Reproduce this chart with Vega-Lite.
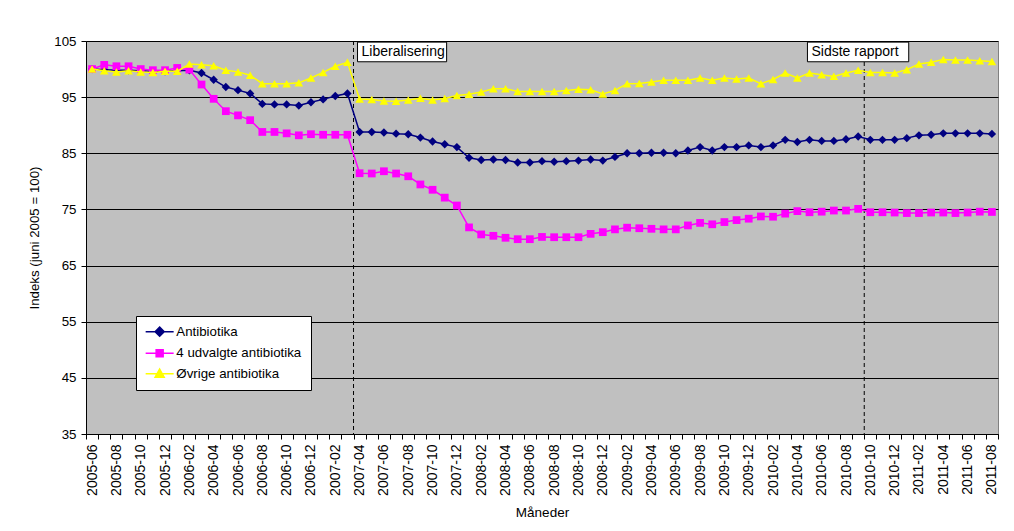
{
  "$schema": "https://vega.github.io/schema/vega-lite/v6.json",
  "width": 912,
  "height": 393,
  "autosize": {"type": "none"},
  "padding": {"left": 86, "top": 41, "right": 16, "bottom": 97},
  "background": "white",
  "config": {
    "font": "Liberation Sans",
    "view": {"fill": "#C0C0C0", "stroke": "#808080", "strokeWidth": 1}
  },
  "datasets": {
    "index": [
      {"month": "2005-06", "Antibiotika": 100.0, "4 udvalgte antibiotika": 100.0, "Øvrige antibiotika": 100.0},
      {"month": "2005-07", "Antibiotika": 99.9, "4 udvalgte antibiotika": 100.75, "Øvrige antibiotika": 99.7},
      {"month": "2005-08", "Antibiotika": 99.8, "4 udvalgte antibiotika": 100.5, "Øvrige antibiotika": 99.5},
      {"month": "2005-09", "Antibiotika": 99.8, "4 udvalgte antibiotika": 100.5, "Øvrige antibiotika": 99.7},
      {"month": "2005-10", "Antibiotika": 99.7, "4 udvalgte antibiotika": 100.0, "Øvrige antibiotika": 99.5},
      {"month": "2005-11", "Antibiotika": 99.6, "4 udvalgte antibiotika": 99.8, "Øvrige antibiotika": 99.4},
      {"month": "2005-12", "Antibiotika": 99.6, "4 udvalgte antibiotika": 99.8, "Øvrige antibiotika": 99.6},
      {"month": "2006-01", "Antibiotika": 99.7, "4 udvalgte antibiotika": 100.2, "Øvrige antibiotika": 99.6},
      {"month": "2006-02", "Antibiotika": 99.8, "4 udvalgte antibiotika": 99.9, "Øvrige antibiotika": 100.9},
      {"month": "2006-03", "Antibiotika": 99.3, "4 udvalgte antibiotika": 97.25, "Øvrige antibiotika": 100.75},
      {"month": "2006-04", "Antibiotika": 98.1, "4 udvalgte antibiotika": 94.7, "Øvrige antibiotika": 100.6},
      {"month": "2006-05", "Antibiotika": 96.8, "4 udvalgte antibiotika": 92.5, "Øvrige antibiotika": 99.8},
      {"month": "2006-06", "Antibiotika": 96.25, "4 udvalgte antibiotika": 91.75, "Øvrige antibiotika": 99.5},
      {"month": "2006-07", "Antibiotika": 95.65, "4 udvalgte antibiotika": 90.9, "Øvrige antibiotika": 98.9},
      {"month": "2006-08", "Antibiotika": 93.8, "4 udvalgte antibiotika": 88.8, "Øvrige antibiotika": 97.4},
      {"month": "2006-09", "Antibiotika": 93.7, "4 udvalgte antibiotika": 88.8, "Øvrige antibiotika": 97.4},
      {"month": "2006-10", "Antibiotika": 93.7, "4 udvalgte antibiotika": 88.55, "Øvrige antibiotika": 97.4},
      {"month": "2006-11", "Antibiotika": 93.5, "4 udvalgte antibiotika": 88.2, "Øvrige antibiotika": 97.55},
      {"month": "2006-12", "Antibiotika": 94.1, "4 udvalgte antibiotika": 88.4, "Øvrige antibiotika": 98.4},
      {"month": "2007-01", "Antibiotika": 94.6, "4 udvalgte antibiotika": 88.3, "Øvrige antibiotika": 99.4},
      {"month": "2007-02", "Antibiotika": 95.2, "4 udvalgte antibiotika": 88.3, "Øvrige antibiotika": 100.5},
      {"month": "2007-03", "Antibiotika": 95.65, "4 udvalgte antibiotika": 88.3, "Øvrige antibiotika": 101.2},
      {"month": "2007-04", "Antibiotika": 88.8, "4 udvalgte antibiotika": 81.45, "Øvrige antibiotika": 94.65},
      {"month": "2007-05", "Antibiotika": 88.8, "4 udvalgte antibiotika": 81.4, "Øvrige antibiotika": 94.6},
      {"month": "2007-06", "Antibiotika": 88.7, "4 udvalgte antibiotika": 81.8, "Øvrige antibiotika": 94.3},
      {"month": "2007-07", "Antibiotika": 88.5, "4 udvalgte antibiotika": 81.4, "Øvrige antibiotika": 94.25},
      {"month": "2007-08", "Antibiotika": 88.4, "4 udvalgte antibiotika": 80.9, "Øvrige antibiotika": 94.5},
      {"month": "2007-09", "Antibiotika": 87.8, "4 udvalgte antibiotika": 79.45, "Øvrige antibiotika": 94.8},
      {"month": "2007-10", "Antibiotika": 87.1, "4 udvalgte antibiotika": 78.5, "Øvrige antibiotika": 94.5},
      {"month": "2007-11", "Antibiotika": 86.6, "4 udvalgte antibiotika": 77.1, "Øvrige antibiotika": 94.75},
      {"month": "2007-12", "Antibiotika": 86.1, "4 udvalgte antibiotika": 75.7, "Øvrige antibiotika": 95.3},
      {"month": "2008-01", "Antibiotika": 84.2, "4 udvalgte antibiotika": 71.8, "Øvrige antibiotika": 95.5},
      {"month": "2008-02", "Antibiotika": 83.8, "4 udvalgte antibiotika": 70.55, "Øvrige antibiotika": 95.9},
      {"month": "2008-03", "Antibiotika": 83.9, "4 udvalgte antibiotika": 70.3, "Øvrige antibiotika": 96.5},
      {"month": "2008-04", "Antibiotika": 83.8, "4 udvalgte antibiotika": 69.95, "Øvrige antibiotika": 96.5},
      {"month": "2008-05", "Antibiotika": 83.35, "4 udvalgte antibiotika": 69.7, "Øvrige antibiotika": 96.0},
      {"month": "2008-06", "Antibiotika": 83.35, "4 udvalgte antibiotika": 69.7, "Øvrige antibiotika": 96.0},
      {"month": "2008-07", "Antibiotika": 83.6, "4 udvalgte antibiotika": 70.1, "Øvrige antibiotika": 96.0},
      {"month": "2008-08", "Antibiotika": 83.5, "4 udvalgte antibiotika": 70.05, "Øvrige antibiotika": 96.0},
      {"month": "2008-09", "Antibiotika": 83.6, "4 udvalgte antibiotika": 70.05, "Øvrige antibiotika": 96.2},
      {"month": "2008-10", "Antibiotika": 83.7, "4 udvalgte antibiotika": 70.05, "Øvrige antibiotika": 96.4},
      {"month": "2008-11", "Antibiotika": 83.9, "4 udvalgte antibiotika": 70.65, "Øvrige antibiotika": 96.3},
      {"month": "2008-12", "Antibiotika": 83.7, "4 udvalgte antibiotika": 70.95, "Øvrige antibiotika": 95.55},
      {"month": "2009-01", "Antibiotika": 84.35, "4 udvalgte antibiotika": 71.45, "Øvrige antibiotika": 96.2},
      {"month": "2009-02", "Antibiotika": 85.0, "4 udvalgte antibiotika": 71.75, "Øvrige antibiotika": 97.4},
      {"month": "2009-03", "Antibiotika": 85.0, "4 udvalgte antibiotika": 71.65, "Øvrige antibiotika": 97.45},
      {"month": "2009-04", "Antibiotika": 85.1, "4 udvalgte antibiotika": 71.55, "Øvrige antibiotika": 97.7},
      {"month": "2009-05", "Antibiotika": 85.1, "4 udvalgte antibiotika": 71.45, "Øvrige antibiotika": 98.0},
      {"month": "2009-06", "Antibiotika": 85.0, "4 udvalgte antibiotika": 71.45, "Øvrige antibiotika": 98.0},
      {"month": "2009-07", "Antibiotika": 85.5, "4 udvalgte antibiotika": 72.15, "Øvrige antibiotika": 98.0},
      {"month": "2009-08", "Antibiotika": 86.1, "4 udvalgte antibiotika": 72.6, "Øvrige antibiotika": 98.4},
      {"month": "2009-09", "Antibiotika": 85.5, "4 udvalgte antibiotika": 72.35, "Øvrige antibiotika": 98.0},
      {"month": "2009-10", "Antibiotika": 86.1, "4 udvalgte antibiotika": 72.75, "Øvrige antibiotika": 98.4},
      {"month": "2009-11", "Antibiotika": 86.1, "4 udvalgte antibiotika": 73.1, "Øvrige antibiotika": 98.25},
      {"month": "2009-12", "Antibiotika": 86.4, "4 udvalgte antibiotika": 73.35, "Øvrige antibiotika": 98.4},
      {"month": "2010-01", "Antibiotika": 86.1, "4 udvalgte antibiotika": 73.75, "Øvrige antibiotika": 97.4},
      {"month": "2010-02", "Antibiotika": 86.4, "4 udvalgte antibiotika": 73.7, "Øvrige antibiotika": 98.15},
      {"month": "2010-03", "Antibiotika": 87.4, "4 udvalgte antibiotika": 74.25, "Øvrige antibiotika": 99.3},
      {"month": "2010-04", "Antibiotika": 87.0, "4 udvalgte antibiotika": 74.7, "Øvrige antibiotika": 98.4},
      {"month": "2010-05", "Antibiotika": 87.4, "4 udvalgte antibiotika": 74.5, "Øvrige antibiotika": 99.3},
      {"month": "2010-06", "Antibiotika": 87.2, "4 udvalgte antibiotika": 74.6, "Øvrige antibiotika": 99.0},
      {"month": "2010-07", "Antibiotika": 87.2, "4 udvalgte antibiotika": 74.8, "Øvrige antibiotika": 98.7},
      {"month": "2010-08", "Antibiotika": 87.5, "4 udvalgte antibiotika": 74.8, "Øvrige antibiotika": 99.3},
      {"month": "2010-09", "Antibiotika": 88.0, "4 udvalgte antibiotika": 75.1, "Øvrige antibiotika": 99.8},
      {"month": "2010-10", "Antibiotika": 87.4, "4 udvalgte antibiotika": 74.5, "Øvrige antibiotika": 99.4},
      {"month": "2010-11", "Antibiotika": 87.4, "4 udvalgte antibiotika": 74.5, "Øvrige antibiotika": 99.4},
      {"month": "2010-12", "Antibiotika": 87.4, "4 udvalgte antibiotika": 74.45, "Øvrige antibiotika": 99.3},
      {"month": "2011-01", "Antibiotika": 87.7, "4 udvalgte antibiotika": 74.35, "Øvrige antibiotika": 99.9},
      {"month": "2011-02", "Antibiotika": 88.2, "4 udvalgte antibiotika": 74.35, "Øvrige antibiotika": 100.9},
      {"month": "2011-03", "Antibiotika": 88.3, "4 udvalgte antibiotika": 74.45, "Øvrige antibiotika": 101.2},
      {"month": "2011-04", "Antibiotika": 88.55, "4 udvalgte antibiotika": 74.45, "Øvrige antibiotika": 101.7},
      {"month": "2011-05", "Antibiotika": 88.55, "4 udvalgte antibiotika": 74.35, "Øvrige antibiotika": 101.6},
      {"month": "2011-06", "Antibiotika": 88.55, "4 udvalgte antibiotika": 74.45, "Øvrige antibiotika": 101.6},
      {"month": "2011-07", "Antibiotika": 88.55, "4 udvalgte antibiotika": 74.6, "Øvrige antibiotika": 101.5},
      {"month": "2011-08", "Antibiotika": 88.45, "4 udvalgte antibiotika": 74.55, "Øvrige antibiotika": 101.35}
    ],
    "notes": [
      {"month": "2007-04", "label": "Liberalisering", "boxStart": "2007-04", "boxEnd": "2007-11"},
      {"month": "2010-10", "label": "Sidste rapport", "boxStart": "2010-05", "boxEnd": "2011-01"}
    ]
  },
  "layer": [
    {
      "data": {"name": "notes"},
      "mark": {"type": "rule", "color": "black", "strokeWidth": 1, "strokeDash": [4, 3]},
      "encoding": {
        "x": {"field": "month", "type": "ordinal", "bandPosition": 0, "scale": {"type": "band", "paddingInner": 0, "paddingOuter": 0}}
      }
    },
    {
      "data": {"name": "index"},
      "transform": [
        {"fold": ["Antibiotika", "4 udvalgte antibiotika", "Øvrige antibiotika"], "as": ["series", "value"]},
        {"filter": {"field": "series", "equal": "Antibiotika"}}
      ],
      "mark": {"type": "line", "color": "#000080", "strokeWidth": 1.5, "point": {"filled": true, "shape": "diamond", "size": 70, "color": "#000080", "opacity": 1}},
      "encoding": {
        "x": {
          "field": "month", "type": "ordinal",
          "scale": {"type": "band", "paddingInner": 0, "paddingOuter": 0},
          "axis": {
            "title": "Måneder", "titleFontSize": 13.5, "titleFontWeight": "normal", "titleColor": "black", "titlePadding": 10,
            "labelAngle": 270, "labelFontSize": 14, "labelColor": "black", "labelPadding": 5, "labelOverlap": false, "labelBound": false,
            "labelExpr": "toNumber(substring(datum.value, 5, 7)) % 2 == 0 ? datum.value : ''",
            "tickBand": "extent", "tickSize": 5, "tickColor": "black", "domainColor": "black", "grid": false
          }
        },
        "y": {
          "field": "value", "type": "quantitative",
          "scale": {"domain": [35, 105], "nice": false, "zero": false},
          "axis": {
            "title": "Indeks (juni 2005 = 100)", "titleFontSize": 13.3, "titleFontWeight": "normal", "titleColor": "black", "titlePadding": 12,
            "values": [35, 45, 55, 65, 75, 85, 95, 105],
            "labelFontSize": 13.3, "labelColor": "black", "labelPadding": 5,
            "tickSize": 5, "tickColor": "black", "domainColor": "black",
            "grid": true, "gridColor": "black", "gridOpacity": 1, "gridWidth": 1
          }
        }
      }
    },
    {
      "data": {"name": "index"},
      "transform": [
        {"fold": ["Antibiotika", "4 udvalgte antibiotika", "Øvrige antibiotika"], "as": ["series", "value"]},
        {"filter": {"field": "series", "equal": "4 udvalgte antibiotika"}}
      ],
      "mark": {"type": "line", "color": "#FF00FF", "strokeWidth": 1.5, "point": {"filled": true, "shape": "square", "size": 60, "color": "#FF00FF", "opacity": 1}},
      "encoding": {
        "x": {"field": "month", "type": "ordinal", "scale": {"type": "band", "paddingInner": 0, "paddingOuter": 0}},
        "y": {"field": "value", "type": "quantitative", "scale": {"domain": [35, 105], "nice": false, "zero": false}}
      }
    },
    {
      "data": {"name": "index"},
      "transform": [
        {"fold": ["Antibiotika", "4 udvalgte antibiotika", "Øvrige antibiotika"], "as": ["series", "value"]},
        {"filter": {"field": "series", "equal": "Øvrige antibiotika"}}
      ],
      "mark": {"type": "line", "color": "#FFFF00", "strokeWidth": 1.5, "point": {"filled": true, "shape": "triangle-up", "size": 75, "color": "#FFFF00", "opacity": 1}},
      "encoding": {
        "x": {"field": "month", "type": "ordinal", "scale": {"type": "band", "paddingInner": 0, "paddingOuter": 0}},
        "y": {"field": "value", "type": "quantitative", "scale": {"domain": [35, 105], "nice": false, "zero": false}}
      }
    },
    {
      "data": {"name": "index"},
      "transform": [
        {"fold": ["Antibiotika", "4 udvalgte antibiotika", "Øvrige antibiotika"], "as": ["series", "value"]}
      ],
      "mark": {"type": "point", "filled": true, "clip": true, "opacity": 1},
      "encoding": {
        "x": {"field": "month", "type": "ordinal", "scale": {"type": "band", "paddingInner": 0, "paddingOuter": 0}},
        "y": {"datum": 0, "type": "quantitative", "scale": {"domain": [35, 105], "nice": false, "zero": false}},
        "fill": {
          "field": "series", "type": "nominal",
          "scale": {"domain": ["Antibiotika", "4 udvalgte antibiotika", "Øvrige antibiotika"], "range": ["#000080", "#FF00FF", "#FFFF00"]},
          "legend": {
            "title": null, "orient": "none", "legendX": 50, "legendY": 275,
            "fillColor": "white", "strokeColor": "black", "padding": 9,
            "symbolSize": 49, "symbolStrokeWidth": 1.5, "symbolOpacity": 1, "symbolOffset": 8, "labelOffset": 10,
            "labelFontSize": 13.3, "labelColor": "black", "rowPadding": 5.5
          }
        },
        "stroke": {
          "field": "series", "type": "nominal",
          "scale": {"domain": ["Antibiotika", "4 udvalgte antibiotika", "Øvrige antibiotika"], "range": ["#000080", "#FF00FF", "#FFFF00"]},
          "legend": {"title": null}
        },
        "shape": {
          "field": "series", "type": "nominal",
          "scale": {"domain": ["Antibiotika", "4 udvalgte antibiotika", "Øvrige antibiotika"], "range": ["M-4,0H4M0,-1.3L1.3,0L0,1.3L-1.3,0Z", "M-4,0H4M-1,-1H1V1H-1Z", "M-4,0H4M0,-1.3L1.3,1H-1.3Z"]},
          "legend": {"title": null}
        }
      }
    },
    {
      "data": {"name": "notes"},
      "mark": {"type": "rect", "fill": "white", "stroke": "black", "strokeWidth": 1, "xOffset": 4, "x2Offset": 8},
      "encoding": {
        "x": {"field": "boxStart", "type": "ordinal", "bandPosition": 0, "scale": {"type": "band", "paddingInner": 0, "paddingOuter": 0}},
        "x2": {"field": "boxEnd", "bandPosition": 0},
        "y": {"datum": 104.8, "type": "quantitative", "scale": {"domain": [35, 105], "nice": false, "zero": false}},
        "y2": {"datum": 101.3}
      }
    },
    {
      "data": {"name": "notes"},
      "mark": {"type": "text", "align": "left", "baseline": "middle", "dx": 8, "fontSize": 14, "color": "black"},
      "encoding": {
        "x": {"field": "boxStart", "type": "ordinal", "bandPosition": 0, "scale": {"type": "band", "paddingInner": 0, "paddingOuter": 0}},
        "y": {"datum": 103.05, "type": "quantitative", "scale": {"domain": [35, 105], "nice": false, "zero": false}},
        "text": {"field": "label"}
      }
    }
  ]
}
